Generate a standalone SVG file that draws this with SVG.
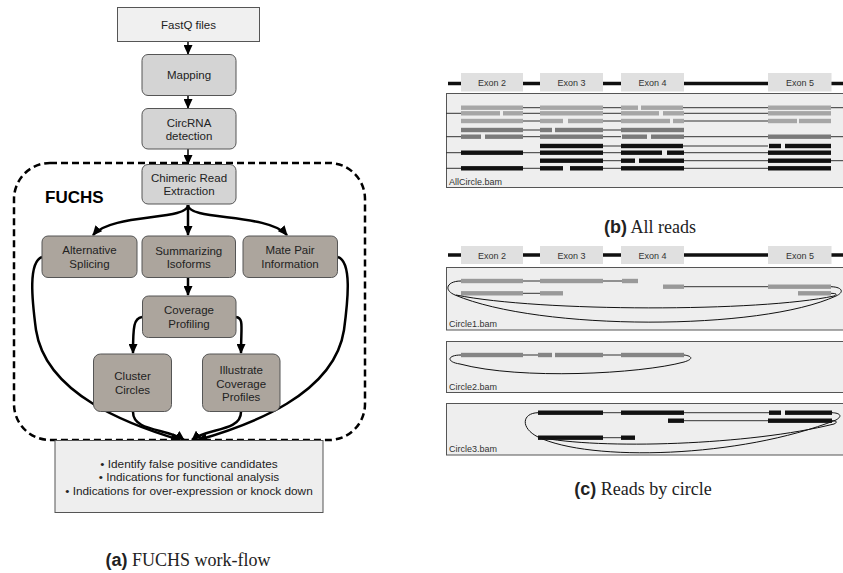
<svg xmlns="http://www.w3.org/2000/svg" width="843" height="573" viewBox="0 0 843 573">
<style>
text{font-family:"Liberation Sans",Arial,sans-serif;fill:#222}
.nt{font-size:11.5px;text-anchor:middle}
.box1{fill:#f0f0f0;stroke:#555;stroke-width:1}
.box2{fill:#d4d4d4;stroke:#555;stroke-width:1}
.box3{fill:#aca59d;stroke:#555;stroke-width:1}
.thin{fill:none;stroke:#000;stroke-width:1.5}
.thick{fill:none;stroke:#000;stroke-width:2.5}
.panel{fill:#eeeeee;stroke:#555;stroke-width:1}
.exon{fill:#e0e0e0}
.ex{font-size:9px;text-anchor:middle;fill:#333}
.bam{font-size:9px;fill:#333}
.lg{fill:#a6a6a6}.dg{fill:#7a7a7a}.bk{fill:#111}.c1{fill:#999}.c2{fill:#858585}
.cl{stroke:#333;stroke-width:1;fill:none}
.loop{stroke:#111;stroke-width:1;fill:none}
.gene{stroke:#111;stroke-width:3.5}
.cap{font-size:18px;text-anchor:middle}
.capb{font-family:"Liberation Sans",Arial,sans-serif;font-weight:bold}
.capt{font-family:"Liberation Serif","Times New Roman",serif}
</style>
<defs>
<marker id="ah" markerUnits="userSpaceOnUse" markerWidth="10" markerHeight="9" refX="9" refY="4.5" orient="auto"><path d="M0,0 L10,4.5 L0,9 z" fill="#000"/></marker>
</defs>

<!-- FUCHS dashed boundary -->
<rect x="14" y="163" width="351" height="277" rx="36" fill="none" stroke="#000" stroke-width="2.5" stroke-dasharray="7 4"/>
<text x="45" y="203" style="font-size:17px;font-weight:bold;fill:#000">FUCHS</text>

<g id="connectors">
<path class="thin" d="M188,42 L188,54" marker-end="url(#ah)"/>
<path class="thin" d="M188,96 L188,108" marker-end="url(#ah)"/>
<path class="thin" d="M188,149 L188,164" marker-end="url(#ah)"/>
<path class="thick" d="M188,205 C188,221 112,213 93,235" marker-end="url(#ah)"/>
<path class="thick" d="M188,205 L188,235" marker-end="url(#ah)"/>
<path class="thick" d="M188,205 C188,221 268,213 287,235" marker-end="url(#ah)"/>
<path class="thick" d="M188,277 L188,295" marker-end="url(#ah)"/>
<path class="thick" d="M142,317 C134,318 133,326 133,353" marker-end="url(#ah)"/>
<path class="thick" d="M236,317 C244,318 241,326 241,353" marker-end="url(#ah)"/>
<path class="thick" d="M133,412 C133,432 168,428 184,440" marker-end="url(#ah)"/>
<path class="thick" d="M241,412 C241,432 206,428 192,440" marker-end="url(#ah)"/>
<path class="thick" d="M42,257 C28,262 32,300 36,330 C46,395 130,425 180,440" marker-end="url(#ah)"/>
<path class="thick" d="M338,257 C352,262 348,300 344,330 C334,395 250,425 198,440" marker-end="url(#ah)"/>
</g>

<g id="fastq"><rect class="box1" x="117.5" y="7.5" width="142" height="34"/><text class="nt" x="188.5" y="28.5">FastQ files</text></g>
<g id="mapping"><rect class="box2" x="142" y="54.5" width="94" height="41" rx="6"/><text class="nt" x="189" y="79">Mapping</text></g>
<g id="circrna"><rect class="box2" x="142" y="108.5" width="94" height="40.5" rx="6"/><text class="nt" x="189" y="126.5">CircRNA</text><text class="nt" x="189" y="140">detection</text></g>
<g id="chimeric"><rect class="box2" x="142" y="164.5" width="94" height="39.5" rx="6"/><text class="nt" x="189" y="182.3">Chimeric Read</text><text class="nt" x="189" y="195">Extraction</text></g>
<g id="altsplice"><rect class="box3" x="42" y="236" width="95" height="41.5" rx="6"/><text class="nt" x="89.5" y="254">Alternative</text><text class="nt" x="89.5" y="268">Splicing</text></g>
<g id="isoforms"><rect class="box3" x="142" y="236" width="93.5" height="41.5" rx="6"/><text class="nt" x="188.7" y="254.5">Summarizing</text><text class="nt" x="188.7" y="268">Isoforms</text></g>
<g id="matepair"><rect class="box3" x="243" y="236" width="94.5" height="41.5" rx="6"/><text class="nt" x="290" y="254">Mate Pair</text><text class="nt" x="290" y="268">Information</text></g>
<g id="coverage"><rect class="box3" x="142.5" y="296" width="93.5" height="41.5" rx="6"/><text class="nt" x="189" y="314">Coverage</text><text class="nt" x="189" y="328">Profiling</text></g>
<g id="cluster"><rect class="box3" x="93.5" y="354" width="78" height="57.5" rx="7"/><text class="nt" x="132.5" y="380">Cluster</text><text class="nt" x="132.5" y="394">Circles</text></g>
<g id="illustrate"><rect class="box3" x="202.5" y="354" width="77.5" height="57.5" rx="7"/><text class="nt" x="241.2" y="374">Illustrate</text><text class="nt" x="241.2" y="387.5">Coverage</text><text class="nt" x="241.2" y="400.5">Profiles</text></g>
<g id="results"><rect x="55" y="440.5" width="268" height="72" fill="#eeeeee" stroke="#555" stroke-width="1"/>
<text class="nt" x="189" y="468" style="font-size:11.8px">• Identify false positive candidates</text>
<text class="nt" x="189" y="481.3" style="font-size:11.8px">• Indications for functional analysis</text>
<text class="nt" x="189" y="494.6" style="font-size:11.8px">• Indications for over-expression or knock down</text></g>

<text class="cap" x="188" y="566"><tspan class="capb">(a)</tspan><tspan class="capt"> FUCHS work-flow</tspan></text>

<!-- Panel b -->
<g id="panel-b">
<line class="gene" x1="448" y1="83.5" x2="843" y2="83.5"/>
<rect class="exon" x="461" y="73" width="62" height="18.5"/><text class="ex" x="492" y="86">Exon 2</text>
<rect class="exon" x="540" y="73" width="63" height="18.5"/><text class="ex" x="571.5" y="86">Exon 3</text>
<rect class="exon" x="621" y="73" width="63" height="18.5"/><text class="ex" x="652.5" y="86">Exon 4</text>
<rect class="exon" x="768" y="73" width="63.5" height="18.5"/><text class="ex" x="800" y="86">Exon 5</text>
<rect class="panel" x="446.5" y="93.5" width="400" height="94"/>
<path class="cl" d="M523,107.7H540M603,107.7H621M683,107.7H768M831,107.7H843
M446,113.3H461M523,113.3H540M603,113.3H621M684,113.3H768
M523,121H540M603,121H621M684,121H768
M523,130H540M603,130H621
M446,136.7H461M523,136.7H540M603,136.7H621M684,136.7H768M831,136.7H843
M603,146H621M683,146H768
M446,152.7H461M523,152.7H540M603,152.7H621M684,152.7H768
M603,160.7H621M684,160.7H768M831,160.7H843
M446,168.3H461M523,168.3H540M603,168.3H621M684,168.3H768"/>
<g class="lg">
<rect x="461" y="105.5" width="62" height="4.4"/><rect x="540" y="105.5" width="63" height="4.4"/><rect x="621" y="105.5" width="17" height="4.4"/><rect x="641" y="105.5" width="42" height="4.4"/><rect x="768" y="105.5" width="63" height="4.4"/>
<rect x="461" y="111.1" width="39" height="4.4"/><rect x="503" y="111.1" width="20" height="4.4"/><rect x="540" y="111.1" width="63" height="4.4"/><rect x="621" y="111.1" width="38" height="4.4"/><rect x="663" y="111.1" width="21" height="4.4"/><rect x="768" y="111.1" width="63" height="4.4"/>
<rect x="461" y="118.8" width="62" height="4.4"/><rect x="540" y="118.8" width="23" height="4.4"/><rect x="568" y="118.8" width="35" height="4.4"/><rect x="621" y="118.8" width="49" height="4.4"/><rect x="673" y="118.8" width="11" height="4.4"/><rect x="768" y="118.8" width="29" height="4.4"/><rect x="799" y="118.8" width="32" height="4.4"/>
</g>
<g class="dg">
<rect x="461" y="127.8" width="62" height="4.4"/><rect x="540" y="127.8" width="12" height="4.4"/><rect x="555" y="127.8" width="48" height="4.4"/><rect x="621" y="127.8" width="63" height="4.4"/>
<rect x="461" y="134.5" width="20" height="4.4"/><rect x="485" y="134.5" width="38" height="4.4"/><rect x="540" y="134.5" width="63" height="4.4"/><rect x="622" y="134.5" width="25" height="4.4"/><rect x="651" y="134.5" width="33" height="4.4"/><rect x="768" y="134.5" width="63" height="4.4"/>
</g>
<g class="bk">
<rect x="540" y="143.8" width="63" height="4.4"/><rect x="621" y="143.8" width="62" height="4.4"/><rect x="769" y="143.8" width="12" height="4.4"/><rect x="785" y="143.8" width="46" height="4.4"/>
<rect x="461" y="150.5" width="62" height="4.4"/><rect x="540" y="150.5" width="63" height="4.4"/><rect x="621" y="150.5" width="41" height="4.4"/><rect x="667" y="150.5" width="17" height="4.4"/><rect x="768" y="150.5" width="63" height="4.4"/>
<rect x="540" y="158.5" width="63" height="4.4"/><rect x="621" y="158.5" width="14" height="4.4"/><rect x="639" y="158.5" width="45" height="4.4"/><rect x="768" y="158.5" width="63" height="4.4"/>
<rect x="461" y="166.1" width="62" height="4.4"/><rect x="540" y="166.1" width="23" height="4.4"/><rect x="570" y="166.1" width="33" height="4.4"/><rect x="621" y="166.1" width="63" height="4.4"/><rect x="768" y="166.1" width="63" height="4.4"/>
</g>
<text class="bam" x="449" y="184.5">AllCircle.bam</text>
</g>
<text class="cap" x="650" y="233"><tspan class="capb">(b)</tspan><tspan class="capt"> All reads</tspan></text>

<!-- Panel c -->
<g id="panel-c">
<line class="gene" x1="448" y1="255" x2="843" y2="255"/>
<rect class="exon" x="461" y="246" width="62" height="18"/><text class="ex" x="492" y="258.5">Exon 2</text>
<rect class="exon" x="540" y="246" width="63" height="18"/><text class="ex" x="571.5" y="258.5">Exon 3</text>
<rect class="exon" x="621" y="246" width="63" height="18"/><text class="ex" x="652.5" y="258.5">Exon 4</text>
<rect class="exon" x="768" y="246" width="63.5" height="18"/><text class="ex" x="800" y="258.5">Exon 5</text>
</g>
<g id="circle1">
<rect class="panel" x="446.5" y="267.5" width="400" height="62.5"/>
<path class="cl" d="M523,281H540M603,281H622M684,286.7H768M523,293.3H540"/>
<g class="c1">
<rect x="461" y="278.8" width="62" height="4.4"/><rect x="540" y="278.8" width="63" height="4.4"/><rect x="622" y="278.8" width="16" height="4.4"/>
<rect x="663" y="284.5" width="21" height="4.4"/><rect x="768" y="284.5" width="63" height="4.4"/>
<rect x="461" y="291.1" width="62" height="4.4"/><rect x="540" y="291.1" width="23" height="4.4"/><rect x="798" y="291.1" width="33" height="4.4"/>
</g>
<path class="loop" d="M461,281 C447,281 443,290 455,295 C540,331 760,331 836,296 C845,292 842,287 831,286.7"/>
<path class="loop" d="M456,295 C540,312 760,312 834,296 C838,294 836,293.5 831,293.3"/>
<text class="bam" x="449" y="326.5">Circle1.bam</text>
</g>
<g id="circle2">
<rect class="panel" x="446.5" y="341.5" width="400" height="51"/>
<path class="cl" d="M523,355H538M603,355H621"/>
<g class="c2">
<rect x="461" y="352.8" width="62" height="4.4"/><rect x="538" y="352.8" width="14" height="4.4"/><rect x="555" y="352.8" width="48" height="4.4"/><rect x="621" y="352.8" width="63" height="4.4"/>
</g>
<path class="loop" d="M461,355 C447,355 446,362 460,364 C520,380 640,374 684,362 C694,359 692,356 684,355"/>
<text class="bam" x="449" y="389.5">Circle2.bam</text>
</g>
<g id="circle3">
<rect class="panel" x="446.5" y="403.5" width="400" height="51.5"/>
<path class="cl" d="M603,412.7H621M684,412.7H769M684,420.7H768M603,437.7H621"/>
<g class="bk">
<rect x="538" y="410.5" width="65" height="4.4"/><rect x="621" y="410.5" width="63" height="4.4"/><rect x="769" y="410.5" width="12" height="4.4"/><rect x="785" y="410.5" width="47" height="4.4"/>
<rect x="668" y="418.5" width="16" height="4.4"/><rect x="768" y="418.5" width="64" height="4.4"/>
<rect x="538" y="435.5" width="65" height="4.4"/><rect x="621" y="435.5" width="14" height="4.4"/>
</g>
<path class="loop" d="M538,412.7 C522,413 520,428 538,437 C590,462 740,458 836,420 C843,416 840,413 832,412.7"/>
<path class="loop" d="M538,437 C600,450 750,445 834,424 C838,422 837,421 832,420.7"/>
<text class="bam" x="449" y="451.5">Circle3.bam</text>
</g>
<text class="cap" x="643" y="495"><tspan class="capb">(c)</tspan><tspan class="capt"> Reads by circle</tspan></text>
</svg>
